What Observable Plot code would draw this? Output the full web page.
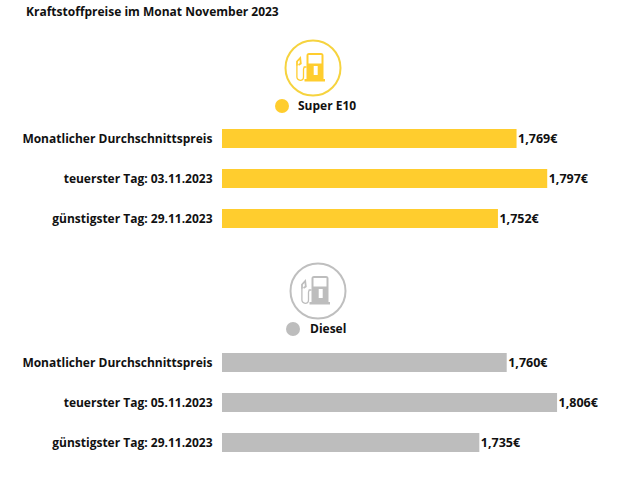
<!DOCTYPE html>
<html><head><meta charset="utf-8">
<script src="https://cdn.jsdelivr.net/npm/d3@7"></script>
<script src="https://cdn.jsdelivr.net/npm/@observablehq/plot@0.6"></script>
<style>
body{margin:0;background:#fff;font-family:"Open Sans",sans-serif;color:#111}
#c{position:relative;width:640px;height:480px;overflow:hidden}
#c>*{position:absolute}
.t{font-weight:700;font-size:12px;white-space:nowrap;line-height:16px}
.d{width:14px;height:14px;border-radius:50%}
svg{font-family:"Open Sans",sans-serif}
</style></head><body><div id="c"></div>
<script>
const title = "Kraftstoffpreise im Monat November 2023";
const rowLabels = ["Monatlicher Durchschnittspreis", "teuerster Tag: 03.11.2023", "günstigster Tag: 29.11.2023"];
const rowLabelsDiesel = ["Monatlicher Durchschnittspreis", "teuerster Tag: 05.11.2023", "günstigster Tag: 29.11.2023"];
const e10Values = [1.769, 1.797, 1.752];
const dieselValues = [1.760, 1.806, 1.735];
const axisStart = 1.5, axisEnd = 1.8653;
const yellow = "#ffcd2e", gray = "#bdbdbd", ringYellow = "#f6d33f", ringGray = "#bfbfbf";
const fmt = v => v.toFixed(3).replace(".", ",") + "€";
const c = document.getElementById("c");

function place(el, left, top){ el.style.left = left + "px"; el.style.top = top + "px"; c.appendChild(el); return el; }
function text(s, left, top){ const e = document.createElement("div"); e.className = "t"; e.textContent = s; return place(e, left, top); }
function dot(col, cx, cy){ const e = document.createElement("div"); e.className = "d"; e.style.background = col; return place(e, cx - 7, cy - 7); }
function icon(ring, fill, cx, cy){
  const e = document.createElement("div");
  e.style.width = e.style.height = "60px";
  e.innerHTML = `<svg width="60" height="60" viewBox="0 0 60 60" style="display:block">
    <circle cx="30" cy="30" r="27.5" fill="none" stroke="${ring}" stroke-width="2"/>
    <path fill-rule="evenodd" fill="${fill}" d="M26 15h12a2.5 2.5 0 0 1 2.500 2.500V41h1.500v2.500H21.500V41h2V17.500A2.500 2.500 0 0 1 26 15zM25.500 17v8.500h13V17zM30.700 28v9h4v-9z"/>
    <path fill="none" stroke="${fill}" stroke-width="1.300" d="M23.500 29h-2.300l-.7 2v8a3.300 3.300 0 0 1-6.600 0V27"/>
    <path fill="none" stroke="${fill}" stroke-width="1.800" d="M14 27.500v-4l3.200-3.500.6 5.500-2.300 1.500"/>
  </svg>`;
  return place(e, cx - 30, cy - 30);
}
function bars(labels, values, col, top){
  const rows = labels.map((label, i) => ({label, value: values[i]}));
  const p = Plot.plot({
    width: 640, height: 142,
    marginLeft: 222, marginRight: 18, marginTop: 0, marginBottom: 0,
    x: {domain: [axisStart, axisEnd], axis: null},
    y: {domain: labels, padding: 0.525, align: 0, label: null},
    style: {background: "transparent", fontFamily: '"Open Sans",sans-serif', overflow: "visible"},
    marks: [
      Plot.barX(rows, {x1: () => axisStart, x2: "value", y: "label", fill: col}),
      Plot.axisY({tickSize: 0, tickPadding: 10, fontSize: 12, fontWeight: 700, fill: "#111", label: null}),
      Plot.text(rows, {x: "value", y: "label", text: d => fmt(d.value), textAnchor: "start", dx: 1, fontSize: 12.5, fontWeight: 700, fill: "#111"})
    ]
  });
  return place(p, 0, top);
}
text(title, 26, 4);
icon(ringYellow, yellow, 313, 68);
dot(yellow, 282, 106);
text("Super E10", 298, 98);
bars(rowLabels, e10Values, yellow, 129);
icon(ringGray, gray, 318, 291);
dot(gray, 293, 329);
text("Diesel", 310, 321);
bars(rowLabelsDiesel, dieselValues, gray, 353);
</script></body></html>
